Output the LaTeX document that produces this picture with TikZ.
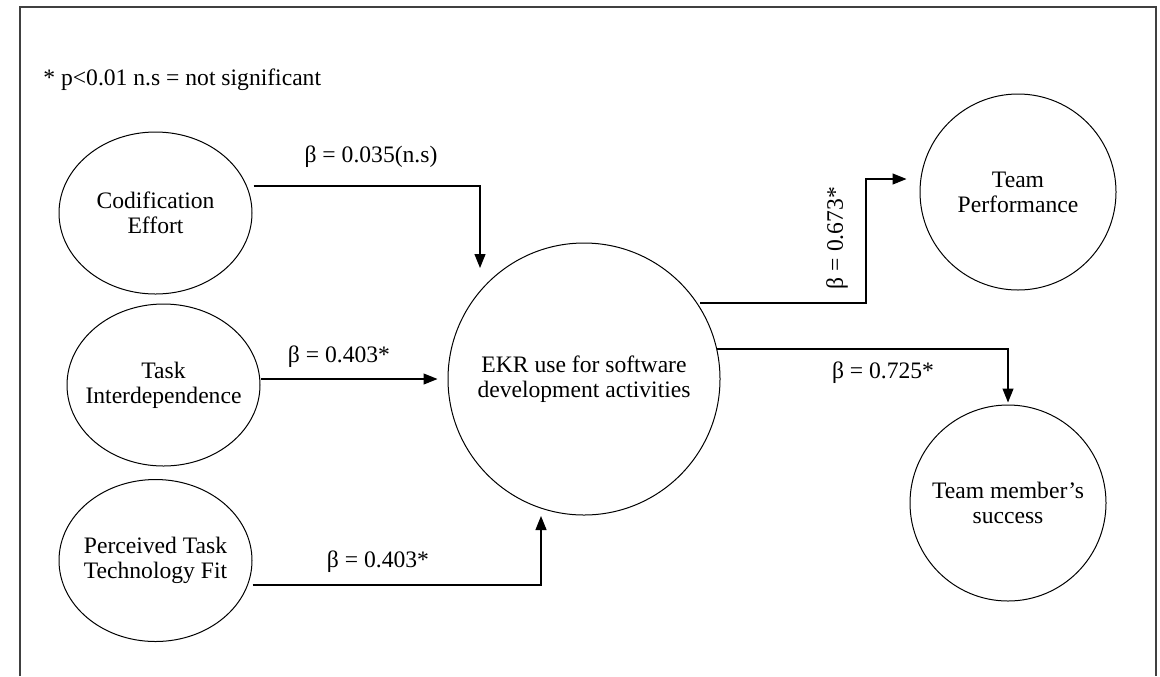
\documentclass[tikz,border=0pt]{standalone}
\usepackage{fontspec}
\setmainfont{Liberation Serif}
\usetikzlibrary{arrows.meta,shapes.geometric}
\begin{document}
\begin{tikzpicture}[x=0.5pt,y=-0.5pt,
  every node/.style={font=\fontsize{11.8pt}{12.6pt}\selectfont},
  factor/.style={draw,ellipse,line width=0.5pt,minimum width=96.5pt,minimum height=81pt,inner xsep=-10pt,inner ysep=0pt,align=center},
  construct/.style={draw,circle,line width=0.5pt,inner sep=0pt,align=center},
  arr/.style={line width=0.6pt,-{Triangle[length=7pt,width=5.5pt]}},
  lbl/.style={inner sep=0pt}]
  \useasboundingbox (0,0) rectangle (1160,676);
  % open frame
  \draw[line width=0.7pt,black!75] (20,676) -- (20,7) -- (1156,7) -- (1156,676);

  \node[lbl,anchor=west] (note) at (43,80) {* p<0.01 n.s = not significant};

  % constructs
  \node[factor] (cod) at (155.5,213) {Codification\\Effort};
  \node[factor] (task) at (163.5,385) {Task\\Interdependence};
  \node[factor] (ptt) at (155.5,560.5) {Perceived Task\\Technology Fit};
  \node[construct,minimum size=136pt] (ekr) at (584,379) {EKR use for software\\development activities};
  \node[construct,minimum size=98pt] (tp) at (1018,192) {Team\\Performance};
  \node[construct,minimum size=98pt] (tms) at (1008,503) {Team member’s\\success};

  % paths
  \draw[arr] ([shift={(1,-27)}]cod.east) -| ([shift={(-104,-111)}]ekr.center);
  \draw[arr] ([shift={(0,-6)}]task.east) -- ([shift={(-10,0)}]ekr.west);
  \draw[arr] ([shift={(0,24.5)}]ptt.east) -| ([shift={(-43,137)}]ekr.center);
  \draw[arr] ([shift={(116,-76)}]ekr.center) -- ++(166,0) |- ([shift={(-13,-13)}]tp.west);
  \draw[arr] ([shift={(133,-30)}]ekr.center) -| ([shift={(0,-2)}]tms.north);

  % path coefficients
  \node[lbl] (b1) at (371,157) {β = 0.035(n.s)};
  \node[lbl] (b2) at (339,357) {β = 0.403*};
  \node[lbl] (b3) at (378,562) {β = 0.403*};
  \node[lbl,rotate=90] (b4) at (837,238) {β = 0.673*};
  \node[lbl] (b5) at (883,373) {β = 0.725*};
\end{tikzpicture}
\end{document}
